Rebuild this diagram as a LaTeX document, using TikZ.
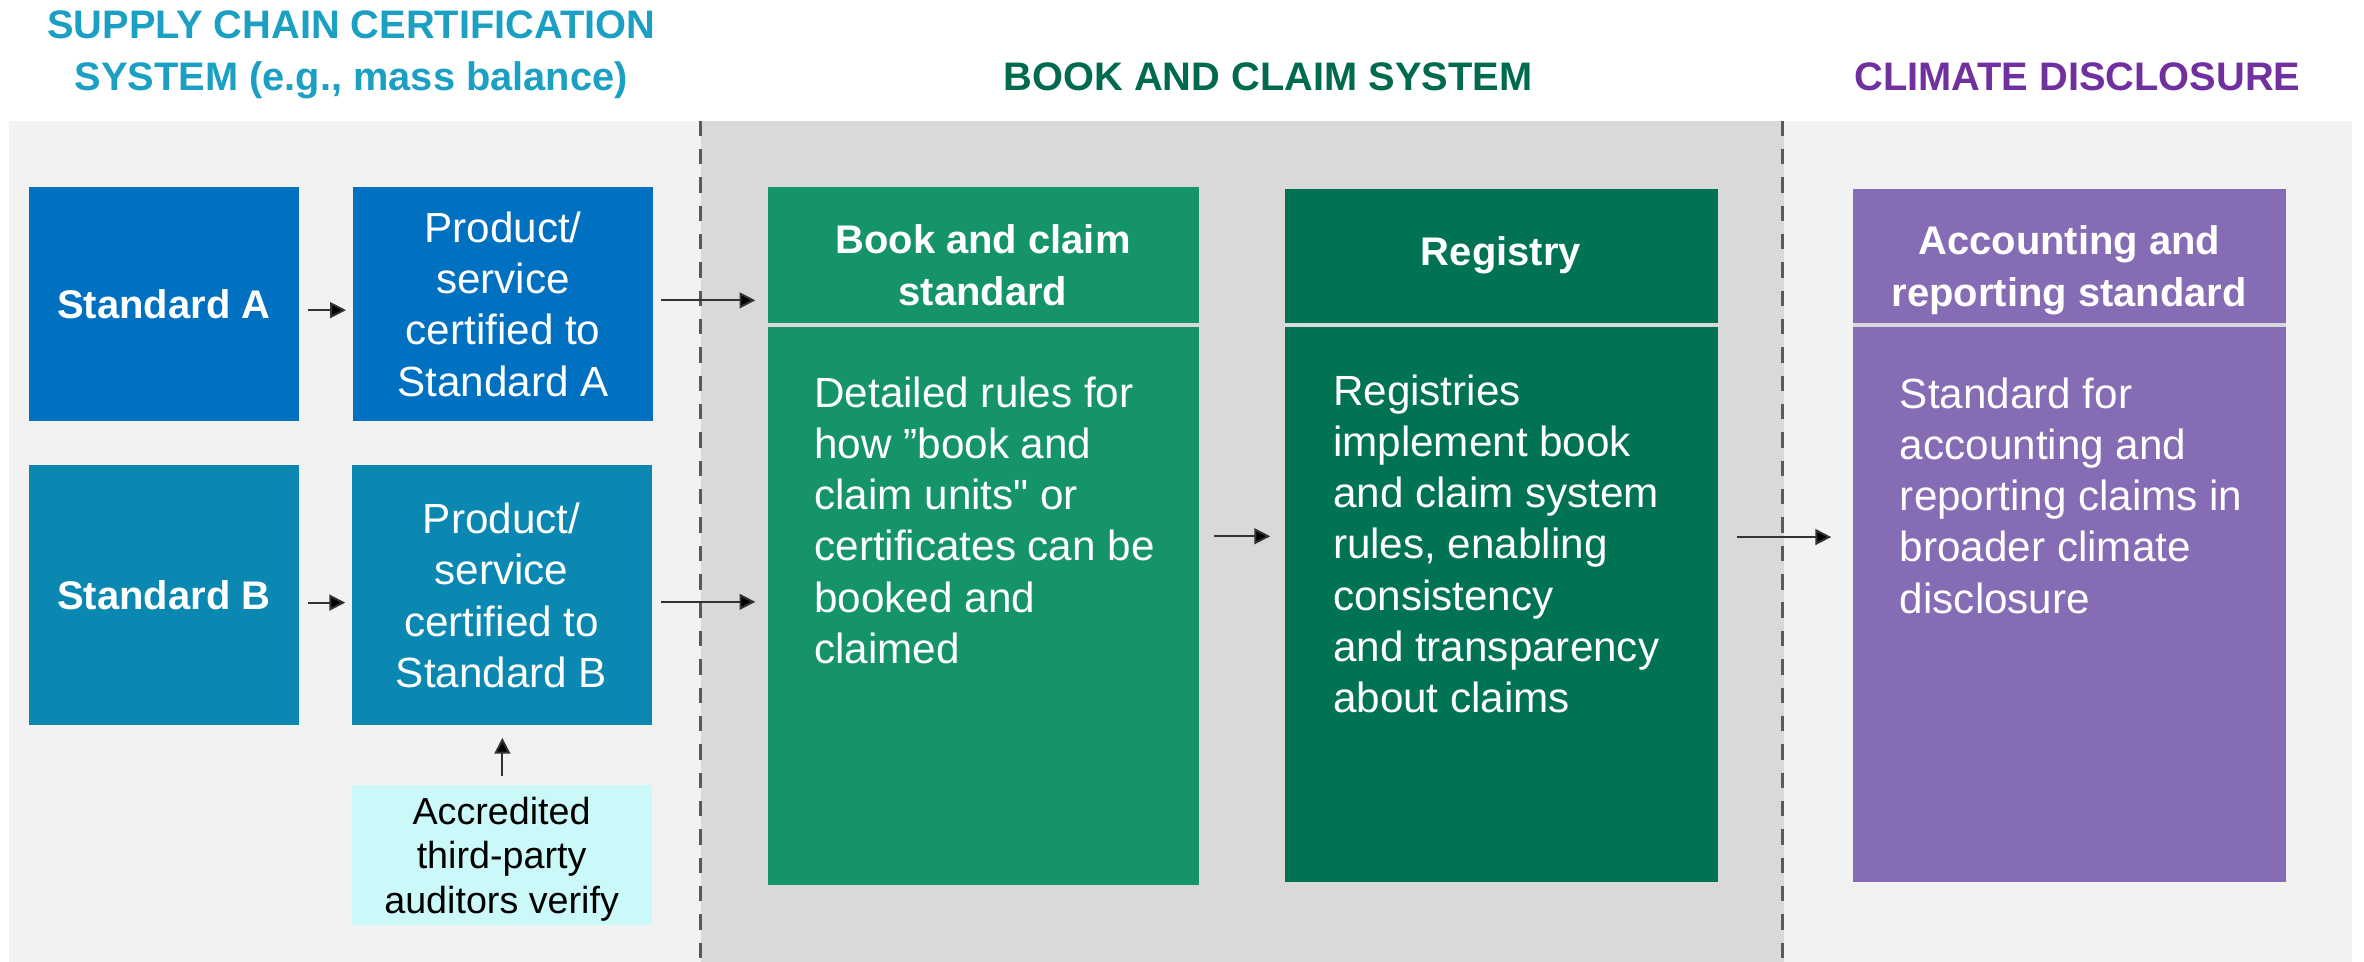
\documentclass[tikz,border=0pt]{standalone}
\usepackage{fontspec}
\setmainfont{Liberation Sans}[Ligatures=TeXOff]
\usetikzlibrary{arrows.meta,calc}
\definecolor{panelL}{HTML}{F2F2F2}
\definecolor{panelM}{HTML}{D9D9D9}
\definecolor{divgray}{HTML}{595959}
\definecolor{arrgray}{HTML}{333333}
\definecolor{blueA}{HTML}{0070C0}
\definecolor{blueB}{HTML}{0A88B2}
\definecolor{audcyan}{HTML}{CBF8F8}
\definecolor{bookgreen}{HTML}{159467}
\definecolor{reggreen}{HTML}{007355}
\definecolor{accpurple}{HTML}{866CB4}
\definecolor{sepgray}{HTML}{D9D9D9}
\definecolor{ttlblue}{HTML}{1BA0C4}
\definecolor{ttlgreen}{HTML}{006A4E}
\definecolor{ttlpurple}{HTML}{7030A0}
\begin{document}
\begin{tikzpicture}[x=1pt,y=-1pt,
  boxn/.style={rectangle, draw=none, inner sep=0pt, anchor=north west, text=white},
  titlefont/.style={font=\fontsize{26.4}{35}\selectfont\bfseries},
  hdr/.style={font=\fontsize{26.5}{34.3}\selectfont\bfseries, text=white, align=center, inner sep=0pt},
  bodytxt/.style={font=\fontsize{28}{34}\selectfont, text=white, align=left, inner sep=0pt},
  divider/.style={draw=divgray, line width=2pt, dash pattern=on 10.2pt off 8.6pt},
  sepline/.style={draw=sepgray, line width=2.7pt},
  arr/.style={draw=arrgray, line width=1.3pt, -{Triangle[length=10.5pt,width=10.5pt,fill=black]}}]
\useasboundingbox (0,0) rectangle (1568,638);
\fill[white] (0,0) rectangle (1568,638);
% panels
\fill[panelL] (6,80) rectangle (465,638);
\fill[panelM] (465,80) rectangle (1183,638);
\fill[panelL] (1183,80) rectangle (1560,638);
\draw[divider] (464.5,80) -- (464.5,638);
\draw[divider] (1182.5,80) -- (1182.5,638);
% titles (anchor=base is the baseline of the last line)
\node[titlefont, text=ttlblue, align=center, anchor=base, inner sep=0pt] (t1) at (233,60.3) {SUPPLY CHAIN CERTIFICATION\\SYSTEM (e.g., mass balance)};
\node[titlefont, text=ttlgreen, anchor=base, inner sep=0pt] (t2) at (841,60.3) {BOOK AND CLAIM SYSTEM};
\node[titlefont, text=ttlpurple, anchor=base, inner sep=0pt] (t3) at (1378,60.3) {CLIMATE DISCLOSURE};
% supply chain boxes
\node[boxn, fill=blueA, minimum width=179pt, minimum height=155pt, font=\fontsize{26.5}{34}\selectfont\bfseries] (stdA) at (19,124) {Standard A};
\node[boxn, fill=blueA, minimum width=199pt, minimum height=155pt, font=\fontsize{28}{34}\selectfont, align=center] (prodA) at (234,124) {Product/\\service\\certified to\\Standard A};
\node[boxn, fill=blueB, minimum width=179pt, minimum height=172.5pt, font=\fontsize{26.5}{34}\selectfont\bfseries] (stdB) at (19,308.5) {Standard B};
\node[boxn, fill=blueB, minimum width=199pt, minimum height=172.5pt, font=\fontsize{28}{34}\selectfont, align=center] (prodB) at (233,308.5) {Product/\\service\\certified to\\Standard B};
\node[boxn, fill=audcyan, minimum width=199pt, minimum height=93pt, font=\fontsize{25}{29.5}\selectfont, align=center, text=black, text depth=0pt] (aud) at (233,520.6) {Accredited\\third-party\\auditors verify};
% book and claim boxes
\node[boxn, fill=bookgreen, minimum width=286pt, minimum height=463pt] (book) at (509,124) {};
\node[boxn, fill=reggreen, minimum width=287pt, minimum height=460pt] (reg) at (852,125) {};
\node[boxn, fill=accpurple, minimum width=287pt, minimum height=460pt] (acc) at (1229,125) {};
\draw[sepline] ($(book.north west)+(0,91.5)$) -- ($(book.north east)+(0,91.5)$);
\draw[sepline] ($(reg.north west)+(0,90.5)$) -- ($(reg.north east)+(0,90.5)$);
\draw[sepline] ($(acc.north west)+(0,90.5)$) -- ($(acc.north east)+(0,90.5)$);
\node[hdr, anchor=base] (bookh) at (652,202.3) {Book and claim\\standard};
\node[hdr, anchor=base] (regh) at (995.5,175.8) {Registry};
\node[hdr, anchor=base] (acch) at (1372.5,203.4) {Accounting and\\reporting standard};
\node[bodytxt, anchor=base west] (bookb) at (540,440) {Detailed rules for\\how ”book and\\claim units" or\\certificates can be\\booked and\\claimed};
\node[bodytxt, anchor=base west] (regb) at (884,472.7) {Registries\\implement book\\and claim system\\rules, enabling\\consistency\\and transparency\\about claims};
\node[bodytxt, anchor=base west] (accb) at (1260,406.7) {Standard for\\accounting and\\reporting claims in\\broader climate\\disclosure};
% arrows
\draw[arr] ($(stdA.east)+(6,4)$) -- ($(prodA.west)+(-4.5,4)$);
\draw[arr] ($(stdB.east)+(6,4.75)$) -- ($(prodB.west)+(-4,4.75)$);
\draw[arr] ($(prodA.east)+(5,-2.5)$) -- ($(prodA.east -| book.west)+(-8,-2.5)$);
\draw[arr] ($(prodB.east)+(6,4.25)$) -- ($(prodB.east -| book.west)+(-8,4.25)$);
\draw[arr] ($(aud.north)+(0.5,-5.6)$) -- ($(prodB.south)+(0.5,8)$);
\draw[arr] ($(book.east)+(10,0)$) -- ($(book.east -| reg.west)+(-9.5,0)$);
\draw[arr] ($(reg.east)+(12.5,1)$) -- ($(reg.east -| acc.west)+(-14.4,1)$);
\end{tikzpicture}
\end{document}
